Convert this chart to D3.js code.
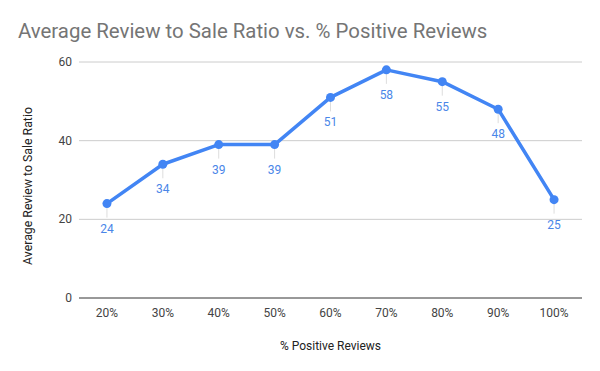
<!DOCTYPE html>
<html><head><meta charset="utf-8">
<script src="https://cdn.jsdelivr.net/npm/d3@7"></script>
<style>body{margin:0;background:#fff;}svg{display:block;font-family:Roboto,sans-serif;}</style>
</head><body><svg id="c" width="600" height="371"></svg>
<script>
const categories = ["20%","30%","40%","50%","60%","70%","80%","90%","100%"];
const values = [24,34,39,39,51,58,55,48,25];
const yTicks = [0,20,40,60];
const title = "Average Review to Sale Ratio vs. % Positive Reviews";
const xTitle = "% Positive Reviews";
const yTitle = "Average Review to Sale Ratio";

const svg = d3.select("#c");
const m = {left:79, right:18, top:62, bottom:73};
const W = 600, H = 371;
const x = d3.scaleBand().domain(categories).range([m.left, W - m.right]);
const y = d3.scaleLinear().domain([0,60]).range([H - m.bottom, m.top]);
const cx = d => x(d) + x.bandwidth()/2;

svg.append("text").attr("x",18).attr("y",38).attr("font-size",20.4).attr("fill","#757575").text(title);

// grid
svg.append("g").selectAll("line").data(yTicks.filter(t=>t>0)).join("line")
  .attr("x1",m.left).attr("x2",W-m.right).attr("y1",d=>y(d)).attr("y2",d=>y(d))
  .attr("stroke","#cccccc").attr("stroke-width",1);
svg.append("line").attr("x1",m.left).attr("x2",W-m.right).attr("y1",y(0)).attr("y2",y(0))
  .attr("stroke","#333").attr("stroke-width",1);

svg.append("g").selectAll("text").data(yTicks).join("text")
  .attr("x",m.left-7).attr("y",d=>y(d)+4).attr("text-anchor","end")
  .attr("font-size",12).attr("fill","#444").text(d=>d);

svg.append("g").selectAll("text").data(categories).join("text")
  .attr("x",d=>cx(d)).attr("y",y(0)+19).attr("text-anchor","middle")
  .attr("font-size",12).attr("fill","#444").text(d=>d);

svg.append("text").attr("x",(m.left+W-m.right)/2).attr("y",350).attr("text-anchor","middle")
  .attr("font-size",12).attr("fill","#222").text(xTitle);
svg.append("text").attr("transform",`translate(32,186) rotate(-90)`)
  .attr("text-anchor","middle").attr("font-size",12.3).attr("fill","#222").text(yTitle);

const data = categories.map((c,i)=>({c, v:values[i]}));

// leader lines
svg.append("g").selectAll("line").data(data).join("line")
  .attr("x1",d=>cx(d.c)).attr("x2",d=>cx(d.c)).attr("y1",d=>y(d.v)).attr("y2",d=>y(d.v)+14)
  .attr("stroke","#dddddd").attr("stroke-width",1);

svg.append("path").datum(data)
  .attr("d", d3.line().x(d=>cx(d.c)).y(d=>y(d.v)))
  .attr("fill","none").attr("stroke","#4285f4").attr("stroke-width",3.5).attr("stroke-linejoin","round");

svg.append("g").selectAll("circle").data(data).join("circle")
  .attr("cx",d=>cx(d.c)).attr("cy",d=>y(d.v)).attr("r",4.5).attr("fill","#4285f4");

svg.append("g").selectAll("text").data(data).join("text")
  .attr("x",d=>cx(d.c)).attr("y",d=>y(d.v)+29).attr("text-anchor","middle")
  .attr("font-size",12).attr("fill","#4a86e8").text(d=>d.v);
</script></body></html>
